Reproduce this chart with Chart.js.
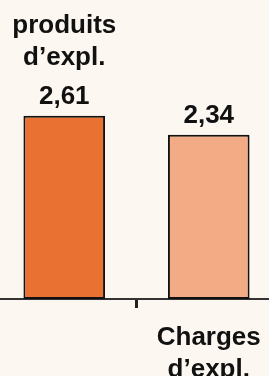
<!DOCTYPE html>
<html>
<head>
<meta charset="utf-8">
<script src="https://cdn.jsdelivr.net/npm/chart.js@4/dist/chart.umd.min.js"></script>
<style>
    html, body { margin: 0; padding: 0; background: #fcf7f1; overflow: hidden; }
    #wrap { position: absolute; left: -8px; top: 0; width: 289px; height: 376px; }
</style>
</head>
<body>
<div id="wrap"><canvas id="chart"></canvas></div>
<script>
// Data
const categories = [['produits', 'd\u2019expl.'], ['Charges', 'd\u2019expl.']];
const values = [2.61, 2.34];
const barColors = ['#e97132', '#f2ab85'];
const yMax = 4.26;

const FONT = 'bold 26px "Liberation Sans", Arial, sans-serif';

// Value labels and category names drawn next to the bars
const barLabels = {
    id: 'barLabels',
    afterDatasetsDraw(chart) {
        const ctx = chart.ctx;
        const meta = chart.getDatasetMeta(0);
        const bottom = chart.chartArea.bottom;
        ctx.save();
        ctx.font = FONT;
        ctx.fillStyle = '#111';
        ctx.textAlign = 'center';
        ctx.textBaseline = 'alphabetic';
        meta.data.forEach((bar, i) => {
            const valueY = bar.y - 12;
            ctx.fillText(values[i].toFixed(2).replace('.', ','), bar.x, valueY);
            const lines = categories[i];
            if (i % 2 === 0) {
                // above the value
                lines.forEach((line, j) => {
                    ctx.fillText(line, bar.x, valueY - 39 - (lines.length - 1 - j) * 32);
                });
            } else {
                // below the axis
                lines.forEach((line, j) => {
                    ctx.fillText(line, bar.x, bottom + 46 + j * 32);
                });
            }
        });
        ctx.restore();
    }
};

new Chart(document.getElementById('chart'), {
    type: 'bar',
    data: {
        labels: categories.map(l => l.join(' ')),
        datasets: [{
            data: values,
            backgroundColor: barColors,
            borderColor: '#111',
            borderWidth: 2,
            borderSkipped: false,
            categoryPercentage: 1,
            barPercentage: 0.565
        }]
    },
    options: {
        responsive: true,
        maintainAspectRatio: false,
        animation: false,
        layout: { padding: { top: 0, left: 0, right: 0, bottom: 68 } },
        plugins: {
            legend: { display: false },
            tooltip: { enabled: false }
        },
        scales: {
            x: {
                offset: true,
                ticks: { display: false },
                grid: {
                    offset: true,
                    drawOnChartArea: false,
                    drawTicks: true,
                    tickLength: 9,
                    tickWidth: 3,
                    tickColor: '#222'
                },
                border: { display: true, color: '#333', width: 2 }
            },
            y: {
                display: false,
                min: 0,
                max: yMax
            }
        }
    },
    plugins: [barLabels]
});
</script>
</body>
</html>
